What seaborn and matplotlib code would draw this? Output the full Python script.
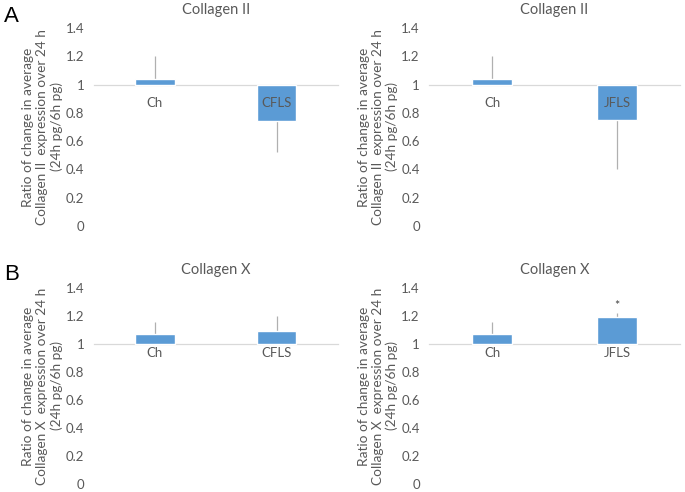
import matplotlib
matplotlib.use("Agg")
import matplotlib.pyplot as plt
import numpy as np
import seaborn as sns

# data: ratio 24h/6h, bars drawn from baseline 1
cats_a1 = ["Ch", "CFLS"]
vals_a1 = [1.04, 0.74]
err_a1 = [0.16, 0.22]

cats_a2 = ["Ch", "JFLS"]
vals_a2 = [1.04, 0.75]
err_a2 = [0.16, 0.35]

cats_b1 = ["Ch", "CFLS"]
vals_b1 = [1.07, 1.09]
err_b1 = [0.085, 0.11]

cats_b2 = ["Ch", "JFLS"]
vals_b2 = [1.07, 1.19]
err_b2 = [0.09, 0.03]

yticks = [0, 0.2, 0.4, 0.6, 0.8, 1, 1.2, 1.4]
ytick_labels = ["0", "0.2", "0.4", "0.6", "0.8", "1", "1.2", "1.4"]

sns.set_style("white")
plt.rcParams["font.family"] = ["Lato", "DejaVu Sans"]
txt = "#595959"
blue = "#5B9BD5"

fig = plt.figure(figsize=(6.85, 4.92), dpi=100)
# [left, bottom, width, height]
pos = {
    "a1": [0.1372, 0.5407, 0.3562, 0.4024],
    "a2": [0.6270, 0.5407, 0.3650, 0.4024],
    "b1": [0.1372, 0.0165, 0.3562, 0.3981],
    "b2": [0.6270, 0.0165, 0.3650, 0.3981],
}
panels = [
    ("a1", cats_a1, vals_a1, err_a1, "Collagen II", 9),
    ("a2", cats_a2, vals_a2, err_a2, "Collagen II", 9),
    ("b1", cats_b1, vals_b1, err_b1, "Collagen X", 2),
    ("b2", cats_b2, vals_b2, err_b2, "Collagen X", 2),
]

for key, cats, vals, errs, title, xpad in panels:
    ax = fig.add_axes(pos[key])
    vals = np.array(vals)
    errs = np.array(errs)
    sns.barplot(x=cats, y=vals - 1, bottom=1, color=blue, saturation=1,
                width=0.32, errorbar=None, ax=ax, zorder=1)
    # one-sided error bars away from the baseline
    tips = np.where(vals >= 1, vals + errs, vals - errs)
    ax.vlines(np.arange(len(cats)), vals, tips, color="#B0B0B0", lw=0.9, zorder=0.5)
    ax.set_axisbelow(False)
    ax.set_xlim(-0.5, len(cats) - 0.5)
    ax.set_ylim(0, 1.4)
    ax.set_yticks(yticks)
    ax.set_yticklabels(ytick_labels)
    for s in ["top", "right", "left"]:
        ax.spines[s].set_visible(False)
    ax.spines["bottom"].set_position(("data", 1))
    ax.spines["bottom"].set_color("#D9D9D9")
    ax.spines["bottom"].set_linewidth(0.9)
    ax.spines["bottom"].set_zorder(0.8)
    ax.tick_params(axis="both", length=0, colors=txt, labelsize=9.5)
    ax.tick_params(axis="y", pad=7)
    ax.tick_params(axis="x", pad=xpad)
    ax.set_title(title, color=txt, fontsize=10.5, pad=10)
    gene = title.replace("Collagen ", "")
    ax.set_ylabel("Ratio of change in average\nCollagen %s  expression over 24 h\n(24h pg/6h pg)" % gene,
                  color=txt, fontsize=9.8, labelpad=2, linespacing=1.2)
    if key == "b2":
        ax.text(1, tips[1] + 0.005, "*", ha="center", va="bottom", color="#404040", fontsize=9)

fig.text(0.006, 0.955, "A", fontsize=16, family="Liberation Sans", color="black")
fig.text(0.006, 0.431, "B", fontsize=16, family="Liberation Sans", color="black")

fig.savefig("out.png", dpi=100)
